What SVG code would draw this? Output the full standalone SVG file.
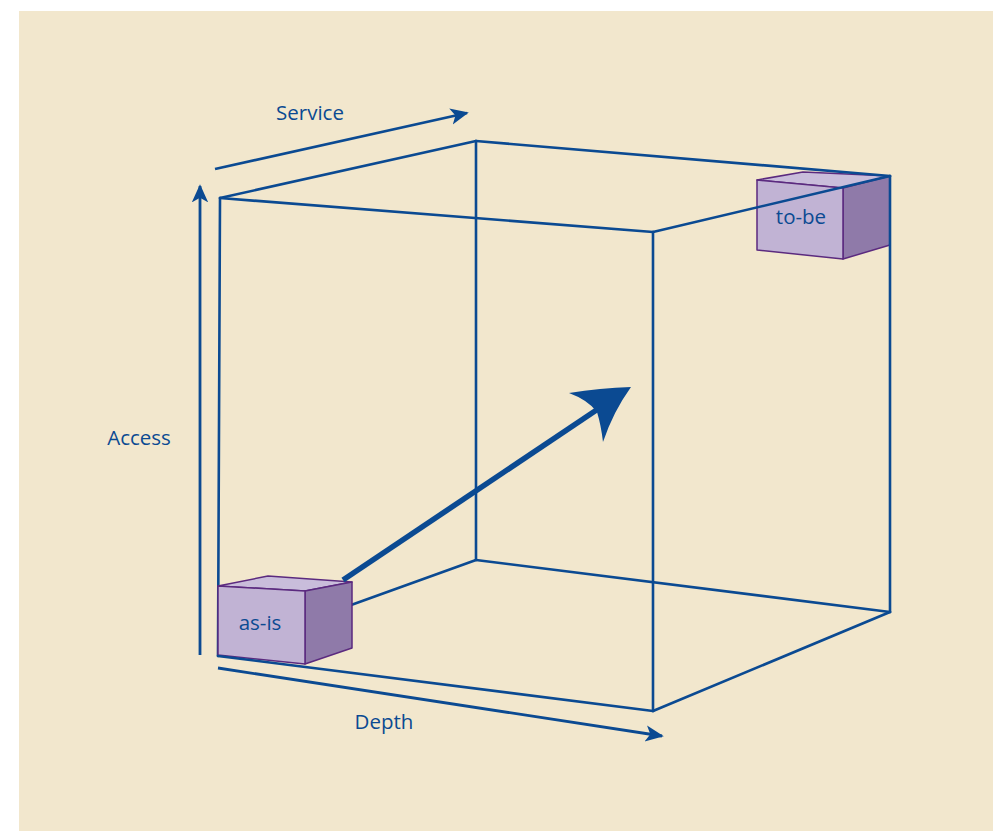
<svg xmlns="http://www.w3.org/2000/svg" width="993" height="831" viewBox="0 0 993 831">
<defs>
<style>
.edge{stroke:#0b4a92;stroke-width:2.6;fill:none;stroke-linecap:round}
.axis{stroke:#0b4a92;stroke-width:2.8;fill:none}
.lbl{font-family:"Open Sans","Liberation Sans",sans-serif;font-size:20.5px;fill:#0b4a92;text-anchor:middle}
.front{fill:#c1b3d4;stroke:#5b2a7f;stroke-width:1.5;stroke-linejoin:round}
.side{fill:#8f7aa9;stroke:#5b2a7f;stroke-width:1.5;stroke-linejoin:round}
.top{fill:#c9bddb;stroke:#5b2a7f;stroke-width:1.5;stroke-linejoin:round}
</style>
<marker id="ah" viewBox="0 0 10 10" refX="9" refY="5" markerWidth="6.5" markerHeight="6.5" orient="auto" markerUnits="strokeWidth">
<path d="M0,0.5 L10,5 L0,9.5 L2.5,5 Z" fill="#0b4a92"/>
</marker>
</defs>
<rect x="19" y="11" width="974" height="820" fill="#f2e7cd"/>

<g id="tobe">
<polygon class="top" points="757,180 803,172 890,176 843,188"/>
<polygon class="side" points="843,188 890,176 890,245 843,259"/>
<polygon class="front" points="757,180 843,188 843,259 757,250"/>
<text class="lbl" x="801" y="224">to-be</text>
</g>

<g id="connectors">
<line class="edge" x1="476" y1="141" x2="890" y2="176"/>
<line class="edge" x1="890" y1="176" x2="890" y2="612"/>
<line class="edge" x1="476" y1="560" x2="890" y2="612"/>
<line class="edge" x1="476" y1="141" x2="476" y2="560"/>
<line class="edge" x1="220" y1="198" x2="476" y2="141"/>
<line class="edge" x1="653" y1="232" x2="890" y2="176"/>
<line class="edge" x1="653" y1="711" x2="890" y2="612"/>
<line class="edge" x1="340" y1="609" x2="476" y2="560"/>
<line class="edge" x1="220" y1="198" x2="653" y2="232"/>
<line class="edge" x1="220" y1="198" x2="218" y2="656"/>
<line class="edge" x1="653" y1="232" x2="653" y2="711"/>
<line class="axis" x1="215" y1="169" x2="467" y2="113" marker-end="url(#ah)"/>
<line class="axis" x1="200" y1="655" x2="200" y2="186" marker-end="url(#ah)"/>
<line class="axis" x1="218" y1="668" x2="662" y2="736" marker-end="url(#ah)"/>
</g>

<g id="asis">
<polygon class="top" points="218,586 268,576 352,582 305,591"/>
<polygon class="side" points="305,591 352,582 352,648 305,664"/>
<polygon class="front" points="218,586 305,591 305,664 218,655"/>
<text class="lbl" x="260" y="630">as-is</text>
</g>

<g id="front-bottom">
<line class="edge" x1="218" y1="656" x2="653" y2="711"/>
</g>

<g id="move-arrow">
<line x1="343" y1="580" x2="598" y2="409" stroke="#0b4a92" stroke-width="5.5"/>
<path d="M631,387 Q600,388 569,393 Q588,400 597,412 Q601,425 603,442 Q613,412 631,387 Z" fill="#0b4a92"/>
</g>

<g id="labels">
<text class="lbl" x="310" y="120">Service</text>
<text class="lbl" x="139" y="445">Access</text>
<text class="lbl" x="384" y="729">Depth</text>
</g>
</svg>
